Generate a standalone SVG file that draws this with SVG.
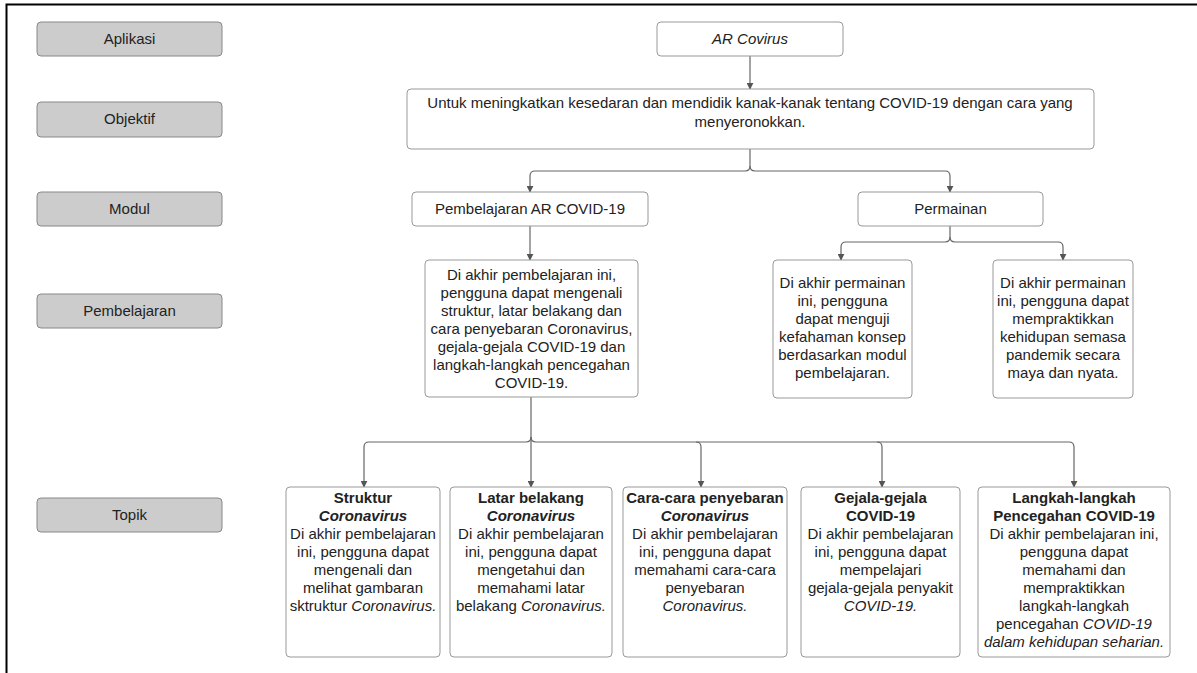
<svg xmlns="http://www.w3.org/2000/svg" width="1197" height="673" viewBox="0 0 1197 673">
  <defs>
    <marker id="arrow" viewBox="0 0 10 10" refX="9" refY="5" markerWidth="7" markerHeight="7" markerUnits="userSpaceOnUse" orient="auto">
      <path d="M0,0 L10,5 L0,10 z" fill="#555"/>
    </marker>
    <style>
      text { font-family: "Liberation Sans", Arial, sans-serif; font-size: 15px; fill: #222; text-anchor: middle; }
      .lvl { fill: #cccccc; stroke: #888; stroke-width: 1; }
      .box { fill: #ffffff; stroke: #999; stroke-width: 1; }
      .b { font-weight: bold; }
      .i { font-style: italic; }
      .bi { font-weight: bold; font-style: italic; }
      .conn { fill: none; stroke: #666; stroke-width: 1.2; }
    </style>
  </defs>

  <rect width="1197" height="673" fill="#ffffff"/>
  <!-- outer frame -->
  <path d="M6.5,673 V4.5 H1197" fill="none" stroke="#000" stroke-width="2"/>

  <!-- level labels -->
  <g id="label-aplikasi"><rect class="lvl" x="37" y="22" width="185" height="34" rx="4"/><text x="129.5" y="44">Aplikasi</text></g>
  <g id="label-objektif"><rect class="lvl" x="37" y="102" width="185" height="35" rx="4"/><text x="129.5" y="124">Objektif</text></g>
  <g id="label-modul"><rect class="lvl" x="37" y="192" width="185" height="34" rx="4"/><text x="129.5" y="214">Modul</text></g>
  <g id="label-pembelajaran"><rect class="lvl" x="37" y="294" width="185" height="34" rx="4"/><text x="129.5" y="316">Pembelajaran</text></g>
  <g id="label-topik"><rect class="lvl" x="37" y="498" width="185" height="34" rx="4"/><text x="129.5" y="520">Topik</text></g>

  <!-- connectors -->
  <g id="connectors">
    <path class="conn" d="M750,56 V89" marker-end="url(#arrow)"/>
    <path class="conn" d="M750,149 V166 Q750,171 745,171 H535 Q530,171 530,176 V192" marker-end="url(#arrow)"/>
    <path class="conn" d="M750,166 Q750,171 755,171 H945 Q950,171 950,176 V192" marker-end="url(#arrow)"/>
    <path class="conn" d="M530,226 V260" marker-end="url(#arrow)"/>
    <path class="conn" d="M950,226 V237 Q950,242 945,242 H846 Q841,242 841,247 V260" marker-end="url(#arrow)"/>
    <path class="conn" d="M950,237 Q950,242 955,242 H1058 Q1063,242 1063,247 V260" marker-end="url(#arrow)"/>
    <path class="conn" d="M531,397 V437 Q531,442 526,442 H369 Q364,442 364,447 V487" marker-end="url(#arrow)"/>
    <path class="conn" d="M531,437 V487" marker-end="url(#arrow)"/>
    <path class="conn" d="M531,437 Q531,442 536,442 H696 Q701,442 701,447 V487" marker-end="url(#arrow)"/>
    <path class="conn" d="M696,442 H877 Q882,442 882,447 V487" marker-end="url(#arrow)"/>
    <path class="conn" d="M877,442 H1069 Q1074,442 1074,447 V487" marker-end="url(#arrow)"/>
  </g>

  <!-- application -->
  <g id="node-app">
    <rect class="box" x="657" y="22" width="186" height="34" rx="4"/>
    <text x="750" y="44" class="i">AR Covirus</text>
  </g>

  <!-- objective -->
  <g id="node-objective">
    <rect class="box" x="407" y="89" width="687" height="60" rx="4"/>
    <text x="750" y="108">Untuk meningkatkan kesedaran dan mendidik kanak-kanak tentang COVID-19 dengan cara yang</text>
    <text x="750" y="127">menyeronokkan.</text>
  </g>

  <!-- modules -->
  <g id="node-module-learning">
    <rect class="box" x="412" y="192" width="236" height="34" rx="4"/>
    <text x="530" y="214">Pembelajaran AR COVID-19</text>
  </g>
  <g id="node-module-game">
    <rect class="box" x="858" y="192" width="185" height="34" rx="4"/>
    <text x="950.5" y="214">Permainan</text>
  </g>

  <!-- learning outcomes -->
  <g id="node-outcome-learning">
    <rect class="box" x="425" y="260" width="213" height="137" rx="4"/>
    <text x="531.5" y="280">Di akhir pembelajaran ini,</text>
    <text x="531.5" y="298">pengguna dapat mengenali</text>
    <text x="531.5" y="316">struktur, latar belakang dan</text>
    <text x="531.5" y="334">cara penyebaran Coronavirus,</text>
    <text x="531.5" y="352">gejala-gejala COVID-19 dan</text>
    <text x="531.5" y="370">langkah-langkah pencegahan</text>
    <text x="531.5" y="388">COVID-19.</text>
  </g>
  <g id="node-outcome-game-1">
    <rect class="box" x="773" y="260" width="139" height="138" rx="4"/>
    <text x="842.5" y="288">Di akhir permainan</text>
    <text x="842.5" y="306">ini, pengguna</text>
    <text x="842.5" y="324">dapat menguji</text>
    <text x="842.5" y="342">kefahaman konsep</text>
    <text x="842.5" y="360">berdasarkan modul</text>
    <text x="842.5" y="378">pembelajaran.</text>
  </g>
  <g id="node-outcome-game-2">
    <rect class="box" x="993" y="260" width="140" height="138" rx="4"/>
    <text x="1063" y="288">Di akhir permainan</text>
    <text x="1063" y="306">ini, pengguna dapat</text>
    <text x="1063" y="324">mempraktikkan</text>
    <text x="1063" y="342">kehidupan semasa</text>
    <text x="1063" y="360">pandemik secara</text>
    <text x="1063" y="378">maya dan nyata.</text>
  </g>

  <!-- topics -->
  <g id="node-topic-structure">
    <rect class="box" x="286" y="487" width="154" height="170" rx="4"/>
    <text x="363" y="503" class="b">Struktur</text>
    <text x="363" y="521" class="bi">Coronavirus</text>
    <text x="363" y="539">Di akhir pembelajaran</text>
    <text x="363" y="557">ini, pengguna dapat</text>
    <text x="363" y="575">mengenali dan</text>
    <text x="363" y="593">melihat gambaran</text>
    <text x="363" y="611">sktruktur <tspan class="i">Coronavirus.</tspan></text>
  </g>
  <g id="node-topic-background">
    <rect class="box" x="450" y="487" width="162" height="170" rx="4"/>
    <text x="531" y="503" class="b">Latar belakang</text>
    <text x="531" y="521" class="bi">Coronavirus</text>
    <text x="531" y="539">Di akhir pembelajaran</text>
    <text x="531" y="557">ini, pengguna dapat</text>
    <text x="531" y="575">mengetahui dan</text>
    <text x="531" y="593">memahami latar</text>
    <text x="531" y="611">belakang <tspan class="i">Coronavirus.</tspan></text>
  </g>
  <g id="node-topic-spread">
    <rect class="box" x="623" y="487" width="164" height="170" rx="4"/>
    <text x="705" y="503" class="b">Cara-cara penyebaran</text>
    <text x="705" y="521" class="bi">Coronavirus</text>
    <text x="705" y="539">Di akhir pembelajaran</text>
    <text x="705" y="557">ini, pengguna dapat</text>
    <text x="705" y="575">memahami cara-cara</text>
    <text x="705" y="593">penyebaran</text>
    <text x="705" y="611" class="i">Coronavirus.</text>
  </g>
  <g id="node-topic-symptoms">
    <rect class="box" x="801" y="487" width="159" height="170" rx="4"/>
    <text x="880.5" y="503" class="b">Gejala-gejala</text>
    <text x="880.5" y="521" class="b">COVID-19</text>
    <text x="880.5" y="539">Di akhir pembelajaran</text>
    <text x="880.5" y="557">ini, pengguna dapat</text>
    <text x="880.5" y="575">mempelajari</text>
    <text x="880.5" y="593">gejala-gejala penyakit</text>
    <text x="880.5" y="611" class="i">COVID-19.</text>
  </g>
  <g id="node-topic-prevention">
    <rect class="box" x="978" y="487" width="192" height="170" rx="4"/>
    <text x="1074" y="503" class="b">Langkah-langkah</text>
    <text x="1074" y="521" class="b">Pencegahan COVID-19</text>
    <text x="1074" y="539">Di akhir pembelajaran ini,</text>
    <text x="1074" y="557">pengguna dapat</text>
    <text x="1074" y="575">memahami dan</text>
    <text x="1074" y="593">mempraktikkan</text>
    <text x="1074" y="611">langkah-langkah</text>
    <text x="1074" y="629">pencegahan <tspan class="i">COVID-19</tspan></text>
    <text x="1074" y="647" class="i">dalam kehidupan seharian.</text>
  </g>
</svg>
